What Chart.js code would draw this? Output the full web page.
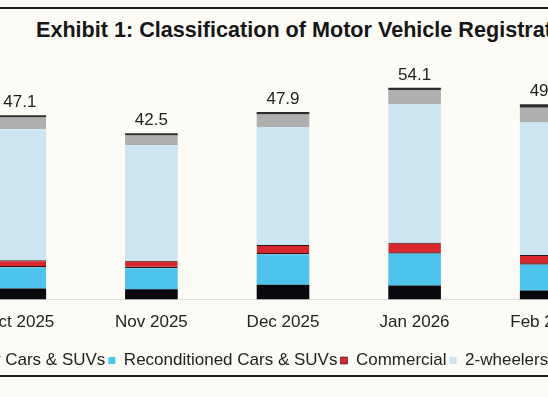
<!DOCTYPE html>
<html>
<head>
<meta charset="utf-8">
<script src="https://cdn.jsdelivr.net/npm/chart.js@4.4.1/dist/chart.umd.min.js"></script>
<style>
  html, body { margin: 0; padding: 0; }
  body { width: 548px; height: 397px; overflow: hidden; position: relative; background: #fdfbf6; font-family: "Liberation Sans", Arial, sans-serif; }
  .rule { position: absolute; left: 0; width: 548px; height: 2px; background: #1c1c1c; }
  #title { position: absolute; left: 36px; top: 18px; font-size: 21.6px; line-height: 24px; font-weight: bold; color: #161616; white-space: nowrap; }
  #wrap { position: absolute; left: -52px; top: 40px; width: 664px; height: 339px; }
</style>
</head>
<body>
<div class="rule" style="top:7px"></div>
<div id="title">Exhibit 1: Classification of Motor Vehicle Registrations</div>
<div id="wrap"><canvas id="regChart"></canvas></div>
<div class="rule" style="top:375px"></div>
<script>
// months shown (thousand registrations)
const months = ['Oct 2025', 'Nov 2025', 'Dec 2025', 'Jan 2026', 'Feb 2026'];
const newCars = [2.8, 2.6, 3.8, 3.6, 2.3];
const reconCars = [5.4, 5.4, 7.7, 8.1, 6.6];
const commercial = [1.8, 1.9, 2.4, 2.8, 2.5];
const twoWheelers = [33.5, 29.6, 30.2, 35.4, 33.8];
const threeWheelers = [3.0, 2.4, 3.2, 3.6, 3.8];
const others = [0.6, 0.6, 0.6, 0.6, 0.9];

Chart.defaults.font.family = '"Liberation Sans", Arial, sans-serif';
Chart.defaults.color = '#222';

// totals on top of each stack
const totalLabels = {
    id: 'totalLabels',
    afterDatasetsDraw(chart) {
        const ctx = chart.ctx;
        const yScale = chart.scales.y;
        const meta = chart.getDatasetMeta(0);
        ctx.save();
        ctx.font = '17px "Liberation Sans", Arial, sans-serif';
        ctx.fillStyle = '#1e1e1e';
        ctx.textAlign = 'center';
        ctx.textBaseline = 'bottom';
        months.forEach((m, i) => {
            let total = 0;
            chart.data.datasets.forEach(ds => { total += ds.data[i]; });
            const x = meta.data[i].x;
            const y = yScale.getPixelForValue(total) - 4;
            ctx.fillText(total.toFixed(1), x, y);
        });
        ctx.restore();
    }
};

const ctx = document.getElementById('regChart').getContext('2d');
const chart = new Chart(ctx, {
    type: 'bar',
    data: {
        labels: months,
        datasets: [
            { label: 'New Cars & SUVs', data: newCars, backgroundColor: '#07090f' },
            { label: 'Reconditioned Cars & SUVs', data: reconCars, backgroundColor: '#4dc3ee' },
            {
                label: 'Commercial', data: commercial, backgroundColor: '#d8262d',
                borderColor: '#2a1416', borderWidth: { top: 1, bottom: 1.5, left: 0, right: 0 }, borderSkipped: false
            },
            { label: '2-wheelers', data: twoWheelers, backgroundColor: '#cce5f1' },
            { label: '3-wheelers', data: threeWheelers, backgroundColor: '#afafaf' },
            { label: 'Others', data: others, backgroundColor: '#2c2c2c' }
        ]
    },
    options: {
        responsive: true,
        maintainAspectRatio: false,
        animation: false,
        layout: { padding: { top: 24.7, left: 0, right: 0, bottom: 0 } },
        datasets: {
            bar: { categoryPercentage: 1, barPercentage: 0.4 }
        },
        scales: {
            x: {
                stacked: true,
                grid: { display: false, drawTicks: false },
                border: { display: true, color: '#dcdcdc', width: 1 },
                ticks: { padding: 12.3, font: { size: 17 }, color: '#222' },
                afterFit: (scale) => { scale.height += 4.5; }
            },
            y: {
                stacked: true,
                min: 0,
                max: 60,
                ticks: { display: false },
                grid: { display: false, drawTicks: false },
                border: { display: false },
                afterFit: (scale) => { scale.width = 6; }
            }
        },
        plugins: {
            title: { display: false },
            tooltip: { enabled: false },
            legend: {
                position: 'bottom',
                align: 'start',
                labels: {
                    boxWidth: 7,
                    boxHeight: 7,
                    padding: 3,
                    font: { size: 17 },
                    color: '#222',
                    filter: (item) => item.datasetIndex < 4
                }
            }
        }
    },
    plugins: [totalLabels]
});
</script>
</body>
</html>
